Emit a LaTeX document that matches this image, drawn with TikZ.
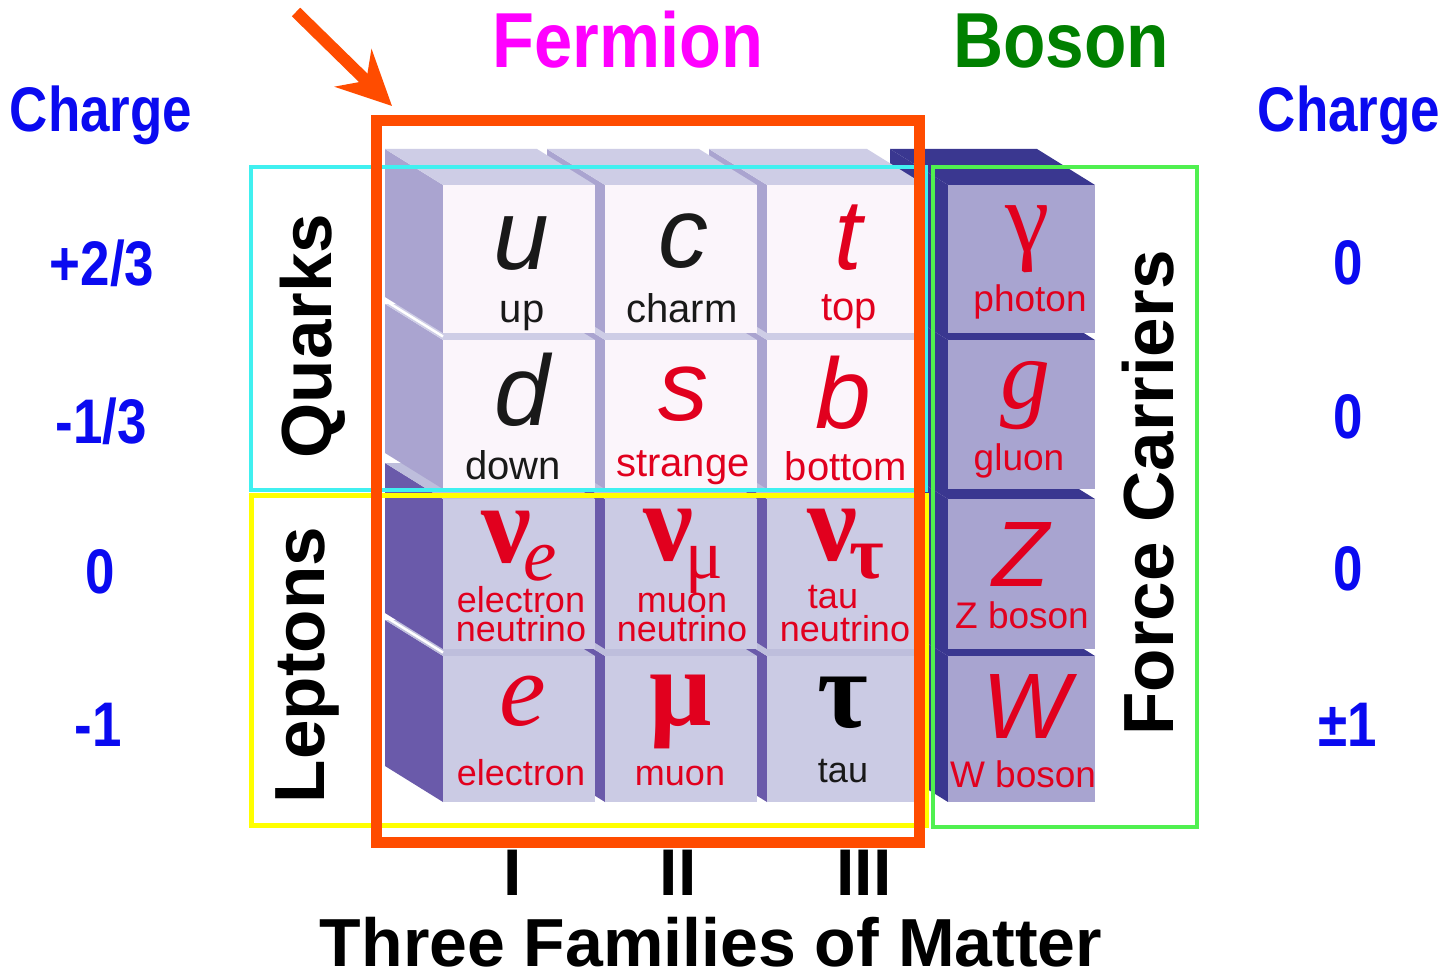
\documentclass[tikz,border=0pt]{standalone}
\usepackage{fontspec}
\usepackage{graphicx}
\setmainfont{Liberation Sans}
\newfontfamily\grk{Liberation Serif}
\usetikzlibrary{arrows.meta}
\definecolor{txtred}{RGB}{225,0,30}
\definecolor{mag}{RGB}{255,0,255}
\definecolor{bgreen}{RGB}{0,128,0}
\definecolor{cblue}{RGB}{10,10,240}
\definecolor{orng}{RGB}{255,76,0}
\definecolor{cyanl}{RGB}{64,240,240}
\definecolor{yell}{RGB}{255,255,0}
\definecolor{grn}{RGB}{80,240,80}
\definecolor{qfrontc}{RGB}{251,245,251}
\definecolor{qsidec}{RGB}{170,164,208}
\definecolor{qtopc}{RGB}{206,205,230}
\definecolor{lfrontc}{RGB}{203,203,228}
\definecolor{lsidec}{RGB}{106,90,170}
\definecolor{ltopc}{RGB}{190,190,220}
\definecolor{bfrontc}{RGB}{168,164,208}
\definecolor{bnavy}{RGB}{58,55,144}
\definecolor{nearblack}{RGB}{25,25,25}
\newcommand\fsz[1]{\fontsize{#1}{#1}\selectfont}
\newcommand\drawcube[7]{%
  \fill[#6] (#1,#2) -- ++(-58,-36) -- ++(0,#4) -- ++(58,36) -- cycle;
  \fill[#7] (#1,#2) -- ++(-58,-36) -- ++(#3,0) -- ++(58,36) -- cycle;
  \fill[#5] (#1,#2) rectangle ++(#3,#4);}
\begin{document}
\begin{tikzpicture}[x=1pt,y=-1pt,
  lbl/.style={inner sep=0pt, outer sep=0pt, anchor=base},
  bigsym/.style={lbl, font=\fsz{100}\itshape},
  grsym/.style={lbl, font=\grk\fsz{110}\bfseries},
  pname/.style={lbl, font=\fsz{40}},
  lname/.style={lbl, font=\fsz{36}, text=txtred, text depth=0pt, text height=26pt},
  bname/.style={lbl, font=\fsz{37}, text=txtred},
  nusym/.style={lbl, text=txtred, text depth=0pt},
  chg/.style={lbl, text=cblue, font=\fsz{63}\bfseries},
  sidetitle/.style={lbl, rotate=90, font=\fsz{71}\bfseries},
  gapline/.style={white, line width=2.5pt}]
\useasboundingbox (0,0) rectangle (1445,976);
\fill[white] (0,0) rectangle (1445,976);

% boson cubes (behind)
\drawcube{948}{656}{147}{146}{bfrontc}{bnavy}{bnavy}
\drawcube{948}{499}{147}{150}{bfrontc}{bnavy}{bnavy}
\drawcube{948}{340}{147}{149}{bfrontc}{bnavy}{bnavy}
\drawcube{948}{185}{147}{148}{bfrontc}{bnavy}{bnavy}

% fermion cubes, back to front
\drawcube{767}{656}{158}{146}{lfrontc}{lsidec}{ltopc}
\drawcube{605}{656}{152}{146}{lfrontc}{lsidec}{ltopc}
\drawcube{443}{656}{152}{146}{lfrontc}{lsidec}{ltopc}
\drawcube{767}{499}{158}{150}{lfrontc}{lsidec}{ltopc}
\drawcube{605}{499}{152}{150}{lfrontc}{lsidec}{ltopc}
\drawcube{443}{499}{152}{150}{lfrontc}{lsidec}{ltopc}
\drawcube{767}{340}{158}{149}{qfrontc}{qsidec}{qtopc}
\drawcube{605}{340}{152}{149}{qfrontc}{qsidec}{qtopc}
\drawcube{443}{340}{152}{149}{qfrontc}{qsidec}{qtopc}
\drawcube{767}{185}{158}{148}{qfrontc}{qsidec}{qtopc}
\drawcube{605}{185}{152}{148}{qfrontc}{qsidec}{qtopc}
\drawcube{443}{185}{152}{148}{qfrontc}{qsidec}{qtopc}
\draw[gapline] (443,336.5) -- ++(-58,-36);
\draw[gapline] (443,652.5) -- ++(-58,-36);

% quark symbols
\node[bigsym, text=nearblack] (u) at (521,270) {u};
\node[pname, text=nearblack] (up) at (522,322) {up};
\node[bigsym, text=nearblack] (c) at (683,268) {c};
\node[pname, text=nearblack] (charm) at (682,322) {charm};
\node[bigsym, text=txtred] (t) at (848,270) {t};
\node[pname, text=txtred] (top) at (849,320) {top};
\node[bigsym, text=nearblack] (d) at (522,425) {d};
\node[pname, text=nearblack] (down) at (513,479) {down};
\node[bigsym, text=txtred] (s) at (683,420) {s};
\node[pname, text=txtred] (strange) at (683,476) {strange};
\node[bigsym, text=txtred] (b) at (843,428) {b};
\node[pname, text=txtred] (bottom) at (846,480) {bottom};

% leptons
\node[nusym] (nue) at (519,562) {\grk\fsz{112}\textbf{ν}\kern-8pt\raisebox{-18pt}{\itshape\fsz{75}e}};
\node[lname] (nuename1) at (521,612) {electron};
\node[lname] (nuename2) at (521,641) {neutrino};
\node[nusym] (numu) at (683,560) {\grk\fsz{112}\textbf{ν}\kern-8pt\raisebox{-18pt}{\fsz{70}μ}};
\node[lname] (numuname1) at (682,612) {muon};
\node[lname] (numuname2) at (682,641) {neutrino};
\node[nusym] (nutau) at (846,560) {\grk\fsz{112}\textbf{ν}\kern-8pt\raisebox{-18pt}{\fsz{75}\textbf{τ}}};
\node[lname] (nutauname1) at (833,608) {tau};
\node[lname] (nutauname2) at (845,641) {neutrino};
\node[lbl, text=txtred, font=\grk\fsz{105}\itshape] (e) at (523,725) {e};
\node[lname] (ename) at (521,785) {electron};
\node[grsym, text=txtred] (mu) at (681,725) {μ};
\node[lname] (muname) at (680,785) {muon};
\node[grsym, text=black] (tau) at (843,727) {τ};
\node[lname, text=nearblack] (tauname) at (843,782) {tau};

% bosons
\node[lbl, text=txtred, font=\grk\fsz{100}] (gamma) at (1028,252) {γ};
\node[bname] (photon) at (1030,312) {photon};
\node[lbl, text=txtred, font=\grk\fsz{100}\itshape] (g) at (1025,408) {g};
\node[bname] (gluon) at (1019,470) {gluon};
\node[lbl, text=txtred, font=\fsz{93}\itshape] (Z) at (1021,586) {Z};
\node[bname] (zboson) at (1022,628) {Z boson};
\node[lbl, text=txtred, font=\fsz{93}\itshape] (W) at (1026,738) {W};
\node[bname] (wboson) at (1023,787) {W boson};

% group boxes
\draw[cyanl, line width=4pt] (251,167) rectangle (926,490);
\draw[yell, line width=5pt] (251,495) rectangle (926,825);
\draw[grn, line width=4pt] (933,167) rectangle (1197,827);
\node[sidetitle] (quarks) at (331,336) {Quarks};
\node[sidetitle] (leptons) at (324,665) {Leptons};
\node[sidetitle] (force) at (1173,493) {Force Carriers};

% fermion frame and arrow
\draw[orng, line width=11pt] (376,121) rectangle (919,842);
\coordinate (arrowtail) at (296,12);
\coordinate (arrowtip) at (392,106);
\draw[orng, line width=12pt, -{Stealth[length=54pt,width=52pt,inset=18pt]}] (arrowtail) -- (arrowtip);

% titles
\node[lbl, text=mag, font=\fsz{78}\bfseries] (fermion) at (628,68) {\scalebox{0.88}[1]{Fermion}};
\node[lbl, text=bgreen, font=\fsz{78}\bfseries] (boson) at (1061,68) {\scalebox{0.89}[1]{Boson}};
\node[chg] (chargeL) at (101,132) {\scalebox{0.84}[1]{Charge}};
\node[chg] (chargeR) at (1349,132) {\scalebox{0.84}[1]{Charge}};
\node[chg] (cl1) at (102,286) {\scalebox{0.84}[1]{+2/3}};
\node[chg] (cl2) at (101,443) {\scalebox{0.84}[1]{-1/3}};
\node[chg] (cl3) at (100,593) {\scalebox{0.84}[1]{0}};
\node[chg] (cl4) at (98,746) {\scalebox{0.84}[1]{-1}};
\node[chg] (cr1) at (1348,284) {\scalebox{0.84}[1]{0}};
\node[chg] (cr2) at (1348,438) {\scalebox{0.84}[1]{0}};
\node[chg] (cr3) at (1348,590) {\scalebox{0.84}[1]{0}};
\node[chg] (cr4) at (1348,746) {\scalebox{0.84}[1]{±1}};

% families
\node[lbl, font=\fsz{66}\bfseries] (fam1) at (513,895) {I};
\node[lbl, font=\fsz{66}\bfseries] (fam2) at (678,895) {II};
\node[lbl, font=\fsz{66}\bfseries] (fam3) at (864,895) {III};
\node[lbl, font=\fsz{68}\bfseries, text depth=0pt] (families) at (711,966) {Three Families of Matter};
\end{tikzpicture}
\end{document}
